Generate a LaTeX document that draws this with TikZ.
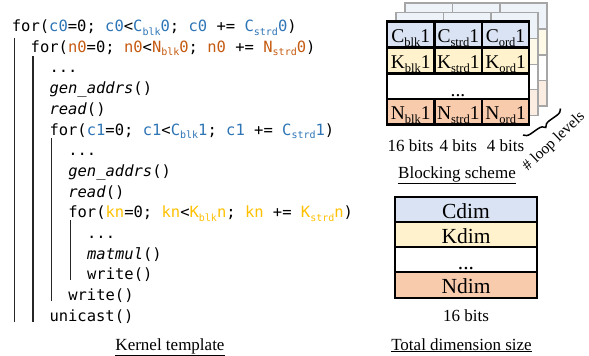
\documentclass[tikz,border=0pt]{standalone}
\usepackage{fontspec}
\setmainfont{Liberation Serif}
\newfontfamily\codefont{DejaVu Sans Mono}
\usetikzlibrary{decorations.pathreplacing}
\definecolor{cblue}{HTML}{2E75B6}
\definecolor{norange}{HTML}{C55A11}
\definecolor{kyellow}{HTML}{FFC000}
\definecolor{cfill}{HTML}{DAE3F3}
\definecolor{kfill}{HTML}{FFF2CC}
\definecolor{nfill}{HTML}{F8CBAD}
\definecolor{backgray}{HTML}{A6A6A6}
\newcommand\cb[1]{\textcolor{cblue}{#1}}
\newcommand\nb[1]{\textcolor{norange}{#1}}
\newcommand\kb[1]{\textcolor{kyellow}{#1}}
\newcommand\csub[1]{\raisebox{-3.5pt}{\fontsize{10}{10}\selectfont #1}}
\newcommand\tsub[1]{\raisebox{-4pt}{\fontsize{12.5}{12.5}\selectfont #1}}
\begin{document}
\begin{tikzpicture}[x=1pt,y=-1pt,
  codeline/.style={anchor=base west, inner sep=0pt, font=\codefont\fontsize{15.5}{18}\selectfont},
  bar/.style={line width=1.3pt, black!85},
  celltext/.style={anchor=base, inner sep=0pt, font=\fontsize{19.5}{20}\selectfont},
  dimtext/.style={anchor=base, inner sep=0pt, font=\fontsize{21.5}{22}\selectfont},
  caption/.style={anchor=base, inner sep=0pt, font=\fontsize{17}{18}\selectfont},
  frontline/.style={line width=2.2pt, black},
  backline/.style={line width=1.4pt, backgray}]
\useasboundingbox (0,0) rectangle (589,356);

% ---------------- code ----------------
\node[codeline] (l1) at (11.7,31.5) {for(\cb{c0}=0; \cb{c0}<\cb{C\csub{blk}0}; \cb{c0} += \cb{C\csub{strd}0})};
\node[codeline] (l2) at (30.5,52.2) {for(\nb{n0}=0; \nb{n0}<\nb{N\csub{blk}0}; \nb{n0} += \nb{N\csub{strd}0})};
\node[codeline] (l3) at (49.3,72.9) {...};
\node[codeline] (l4) at (49.3,93.6) {\textit{gen\_addrs}()};
\node[codeline] (l5) at (49.3,114.3) {\textit{read}()};
\node[codeline] (l6) at (49.3,135.0) {for(\cb{c1}=0; \cb{c1}<\cb{C\csub{blk}1}; \cb{c1} += \cb{C\csub{strd}1})};
\node[codeline] (l7) at (68.1,155.7) {...};
\node[codeline] (l8) at (68.1,176.4) {\textit{gen\_addrs}()};
\node[codeline] (l9) at (68.1,197.1) {\textit{read}()};
\node[codeline] (l10) at (68.1,217.8) {for(\kb{kn}=0; \kb{kn}<\kb{K\csub{blk}n}; \kb{kn} += \kb{K\csub{strd}n})};
\node[codeline] (l11) at (86.9,238.5) {...};
\node[codeline] (l12) at (86.9,259.2) {\textit{matmul}()};
\node[codeline] (l13) at (86.9,279.9) {write()};
\node[codeline] (l14) at (68.1,300.6) {write()};
\node[codeline] (l15) at (49.3,321.3) {unicast()};

\draw[bar] (14.3,38) -- (14.3,322);
\draw[bar] (33.0,56) -- (33.0,322);
\draw[bar] (51.5,138) -- (51.5,300.5);
\draw[bar] (70.4,220) -- (70.4,280);

\node[caption] (kcap) at (170,350) {\underline{Kernel template}};

% ---------------- blocking scheme: back layers ----------------
\foreach \dx/\dy in {18/-18.5, 9/-9.25} {
  \begin{scope}[shift={(\dx,\dy)}]
    \fill[cfill!45] (387,21.5) rectangle (529,47.5);
    \fill[kfill!45] (387,47.5) rectangle (529,73.5);
    \fill[white] (387,73.5) rectangle (529,99);
    \fill[nfill!35] (387,99) rectangle (529,124.5);
    \draw[backline] (387,21.5) rectangle (529,124.5);
    \draw[backline] (387,47.5) -- (529,47.5) (387,73.5) -- (529,73.5) (387,99) -- (529,99);
    \draw[backline] (434.5,21.5) -- (434.5,73.5) (482,21.5) -- (482,73.5)
                    (434.5,99) -- (434.5,124.5) (482,99) -- (482,124.5);
  \end{scope}
}

% ---------------- blocking scheme: front layer ----------------
\fill[cfill] (387,21.5) rectangle (529,47.5);
\fill[kfill] (387,47.5) rectangle (529,73.5);
\fill[white] (387,73.5) rectangle (529,99);
\fill[nfill] (387,99) rectangle (529,124.5);
\draw[frontline] (387,47.5) -- (529,47.5) (387,73.5) -- (529,73.5) (387,99) -- (529,99);
\draw[frontline] (434.5,21.5) -- (434.5,73.5) (482,21.5) -- (482,73.5)
                 (434.5,99) -- (434.5,124.5) (482,99) -- (482,124.5);
\draw[frontline] (387,21.5) rectangle (529,124.5);

\node[celltext] (cblk) at (410.8,42) {C\tsub{blk}1};
\node[celltext] (cstrd) at (458.3,42) {C\tsub{strd}1};
\node[celltext] (cord) at (505.5,42) {C\tsub{ord}1};
\node[celltext] (kblk) at (410.8,68) {K\tsub{blk}1};
\node[celltext] (kstrd) at (458.3,68) {K\tsub{strd}1};
\node[celltext] (kord) at (505.5,68) {K\tsub{ord}1};
\node[celltext] (bdots) at (458,96) {...};
\node[celltext] (nblk) at (410.8,119) {N\tsub{blk}1};
\node[celltext] (nstrd) at (458.3,119) {N\tsub{strd}1};
\node[celltext] (nord) at (505.5,119) {N\tsub{ord}1};

\node[caption] (w1) at (410.5,151) {16 bits};
\node[caption] (w2) at (458.3,151) {4 bits};
\node[caption] (w3) at (505.5,151) {4 bits};

\coordinate (bA) at (523,135);
\coordinate (bB) at (560.5,108.5);
\draw[decorate, decoration={brace, amplitude=7pt, mirror}, line width=1.5pt] (bA) -- (bB);
\node[inner sep=0pt, rotate=43.5, font=\fontsize{15.5}{16}\selectfont] (loops) at (554,142) {\# loop levels};

\node[caption] (bcap) at (457,178) {\underline{Blocking scheme}};

% ---------------- total dimension size ----------------
\fill[cfill] (395,197) rectangle (537,222);
\fill[kfill] (395,222) rectangle (537,247);
\fill[white] (395,247) rectangle (537,272);
\fill[nfill] (395,272) rectangle (537,298);
\draw[frontline] (395,222) -- (537,222) (395,247) -- (537,247) (395,272) -- (537,272);
\draw[frontline] (395,197) rectangle (537,298);
\node[dimtext] (cdim) at (466,218.5) {Cdim};
\node[dimtext] (kdim) at (466,243.5) {Kdim};
\node[dimtext] (ddots) at (466,269) {...};
\node[dimtext] (ndim) at (466,293.5) {Ndim};
\node[caption] (w4) at (466,321.5) {16 bits};
\node[caption] (tcap) at (461.5,350) {\underline{Total dimension size}};
\end{tikzpicture}
\end{document}
